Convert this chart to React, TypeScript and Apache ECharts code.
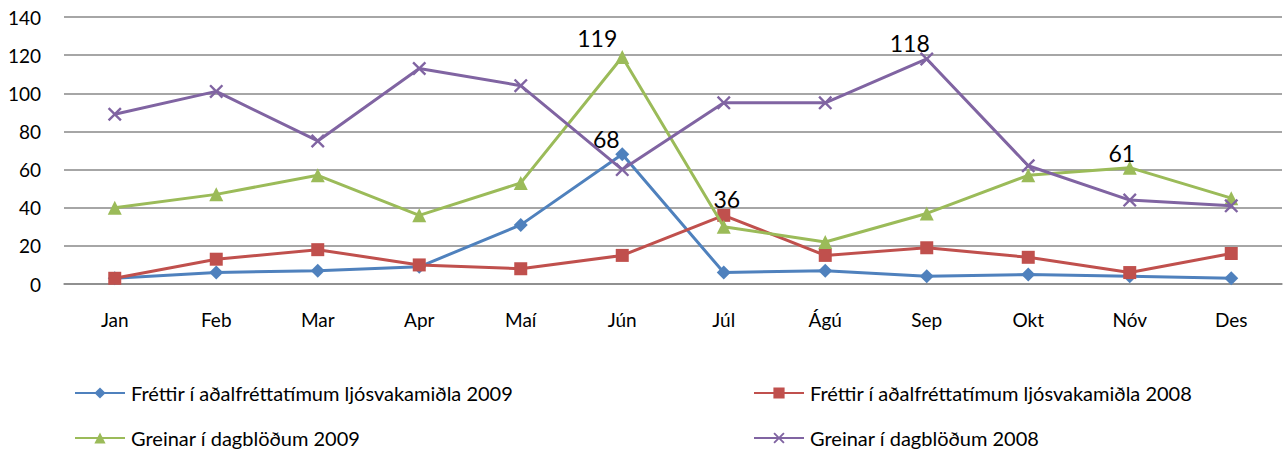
import React, { useEffect, useRef } from "react";
import * as echarts from "echarts";

const months = ["Jan", "Feb", "Mar", "Apr", "Maí", "Jún", "Júl", "Ágú", "Sep", "Okt", "Nóv", "Des"];
const seriesNames = [
  "Fréttir í aðalfréttatímum ljósvakamiðla 2009",
  "Fréttir í aðalfréttatímum ljósvakamiðla 2008",
  "Greinar í dagblöðum 2009",
  "Greinar í dagblöðum 2008",
];
const frettir2009 = [3, 6, 7, 9, 31, 68, 6, 7, 4, 5, 4, 3];
const frettir2008 = [3, 13, 18, 10, 8, 15, 36, 15, 19, 14, 6, 16];
const greinar2009 = [40, 47, 57, 36, 53, 119, 30, 22, 37, 57, 61, 45];
const greinar2008 = [89, 101, 75, 113, 104, 60, 95, 95, 118, 62, 44, 41];
const yTicks = { min: 0, max: 140, interval: 20 };

// which points carry a value label, with the label's placement
const labelled: Record<number, Record<number, [number, number]>> = {
  0: { 5: [-16, -15] },
  1: { 6: [3, -16] },
  2: { 5: [-25, -19], 10: [-8, -15] },
  3: { 8: [-17, -16] },
};

const colors = ["#4F81BD", "#C0504D", "#9BBB59", "#8064A2"];
const symbols = [
  "diamond",
  "rect",
  "triangle",
  "path://M0,1.2L1.2,0L5,3.8L8.8,0L10,1.2L6.2,5L10,8.8L8.8,10L5,6.2L1.2,10L0,8.8L3.8,5Z",
];
const symbolSizes = [14, 13, 14, 14];
const FONT = "Lato, 'Noto Sans', sans-serif";

export default function App() {
  const ref = useRef<HTMLDivElement>(null);
  useEffect(() => {
    if (!ref.current) return;
    const chart = echarts.init(ref.current, undefined, { renderer: "svg" });
    const all = [frettir2009, frettir2008, greinar2009, greinar2008];
    const series = all.map((vals, si) => ({
      name: seriesNames[si],
      type: "line",
      data: vals.map((v, i) => {
        const off = labelled[si][i];
        if (!off) return v;
        return {
          value: v,
          label: {
            show: true,
            position: "inside",
            offset: off,
            formatter: "{c}",
            color: "#000",
            fontSize: 23,
            fontFamily: FONT,
          },
        };
      }),
      symbol: symbols[si],
      symbolSize: symbolSizes[si],
      showAllSymbol: true,
      lineStyle: { color: colors[si], width: 3 },
      itemStyle: { color: colors[si] },
      z: 2 + si,
    }));
    const legendPos = [
      { left: 74, top: 383 },
      { left: 753, top: 383 },
      { left: 74, top: 428 },
      { left: 753, top: 428 },
    ];
    chart.setOption({
      animation: false,
      grid: { left: 64, right: 4, top: 17, bottom: 172, containLabel: false },
      xAxis: {
        type: "category",
        data: months,
        boundaryGap: true,
        axisLine: { show: true, lineStyle: { color: "#898989", width: 1.5 } },
        axisTick: { show: false },
        axisLabel: { color: "#000", fontSize: 19, fontFamily: FONT, margin: 26 },
      },
      yAxis: {
        type: "value",
        min: yTicks.min,
        max: yTicks.max,
        interval: yTicks.interval,
        axisLine: { show: false },
        axisTick: { show: false },
        splitLine: { lineStyle: { color: "#898989", width: 1.5 } },
        axisLabel: { color: "#000", fontSize: 19, fontFamily: FONT, margin: 23 },
      },
      legend: seriesNames.map((n, i) => ({
        data: [n],
        left: legendPos[i].left,
        top: legendPos[i].top,
        itemWidth: 50,
        itemHeight: 14,
        itemGap: 0,
        padding: 0,
        textStyle: { color: "#000", fontSize: 20, fontFamily: FONT, padding: [0, 0, 0, 1] },
        selectedMode: false,
      })),
      series,
    });
    return () => chart.dispose();
  }, []);
  return (
    <div
      ref={ref}
      style={{ position: "fixed", left: 0, top: 0, width: 1286, height: 456, background: "#fff" }}
    />
  );
}
